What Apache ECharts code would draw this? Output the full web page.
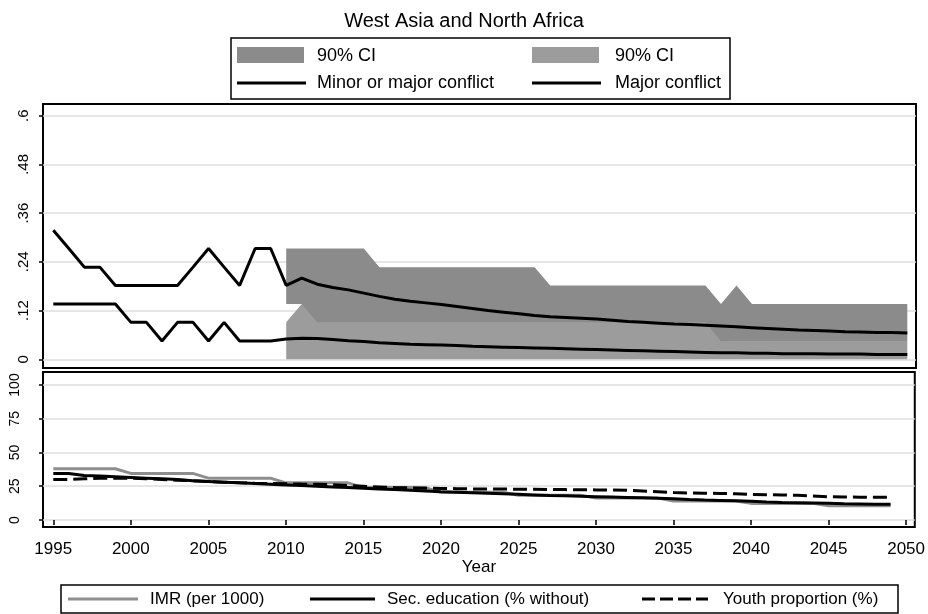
<!DOCTYPE html>
<html>
<head>
<meta charset="utf-8">
<title>West Asia and North Africa</title>
<script src="https://cdn.jsdelivr.net/npm/echarts@6/dist/echarts.min.js"></script>
<style>
  html, body { margin: 0; padding: 0; background: #fff; }
  #chart { width: 928px; height: 614px; }
</style>
</head>
<body>
<div id="chart"></div>
<script>
// ---- Conflict incidence (share of countries), observed 1995-2009, forecast 2010-2050
var conflictYears = [1995,1996,1997,1998,1999,2000,2001,2002,2003,2004,2005,2006,2007,2008,2009,
  2010,2011,2012,2013,2014,2015,2016,2017,2018,2019,2020,2021,2022,2023,2024,2025,2026,2027,2028,2029,
  2030,2031,2032,2033,2034,2035,2036,2037,2038,2039,2040,2041,2042,2043,2044,2045,2046,2047,2048,2049,2050];

var minorOrMajor = [.318,.273,.227,.227,.182,.182,.182,.182,.182,.227,.273,.227,.182,.273,.273,
  .182,.200,.185,.177,.171,.163,.155,.148,.143,.139,.135,.130,.125,.120,.116,.112,.108,.105,.103,.101,
  .099,.096,.093,.091,.089,.087,.086,.084,.082,.080,.078,.076,.074,.072,.071,.070,.068,.067,.066,.066,.065];

var majorOnly = [.136,.136,.136,.136,.136,.091,.091,.045,.091,.091,.045,.091,.045,.045,.045,
  .050,.052,.051,.049,.046,.044,.041,.039,.037,.036,.035,.034,.032,.031,.030,.029,.028,.027,.026,.025,
  .024,.023,.022,.021,.020,.019,.018,.017,.016,.016,.015,.015,.014,.014,.014,.013,.013,.013,.012,.012,.012];

// ---- 90% confidence intervals of the forecasts
var ciYears = [2010,2011,2012,2013,2014,2015,2016,2017,2018,2019,2020,2021,2022,2023,2024,2025,2026,2027,2028,2029,
  2030,2031,2032,2033,2034,2035,2036,2037,2038,2039,2040,2041,2042,2043,2044,2045,2046,2047,2048,2049,2050];

var ciAnyLow = [.136,.136,.045,.045,.045,.045,.045,.045,.045,.045,.045,.045,.045,.045,.045,.045,.045,.045,.045,.045,
  .045,.045,.045,.045,.045,.045,.045,.045,.045,.045,.045,.045,.045,.045,.045,.045,.045,.045,.045,.045,.045];
var ciAnyHigh = [.273,.273,.273,.273,.273,.273,.227,.227,.227,.227,.227,.227,.227,.227,.227,.227,.227,.182,.182,.182,
  .182,.182,.182,.182,.182,.182,.182,.182,.136,.182,.136,.136,.136,.136,.136,.136,.136,.136,.136,.136,.136];
var ciMajorLow = [0,0,0,0,0,0,0,0,0,0,0,0,0,0,0,0,0,0,0,0,
  0,0,0,0,0,0,0,0,0,0,0,0,0,0,0,0,0,0,0,0,0];
var ciMajorHigh = [.091,.136,.091,.091,.091,.091,.091,.091,.091,.091,.091,.091,.091,.091,.091,.091,.091,.091,.091,.091,
  .091,.091,.091,.091,.091,.091,.091,.091,.045,.045,.045,.045,.045,.045,.045,.045,.045,.045,.045,.045,.045];

// ---- Structural drivers, 1995-2049
var driverYears = [1995,1996,1997,1998,1999,2000,2001,2002,2003,2004,2005,2006,2007,2008,2009,
  2010,2011,2012,2013,2014,2015,2016,2017,2018,2019,2020,2021,2022,2023,2024,2025,2026,2027,2028,2029,
  2030,2031,2032,2033,2034,2035,2036,2037,2038,2039,2040,2041,2042,2043,2044,2045,2046,2047,2048,2049];

var imr = [38,38,38,38,38,34.5,34.5,34.5,34.5,34.5,31,31,31,31,31,
  27.5,27.5,27.5,27.5,27.5,24,24,24,24,24,20.5,20.5,20.5,20.5,20.5,18.3,18.3,18.3,18.3,18.3,
  16.2,16.2,16.2,16.2,16.2,14.1,14.1,14.1,14.1,14.1,12.3,12.3,12.3,12.3,12.3,10.6,10.6,10.6,10.6,10.6];

var secEducation = [34.5,34.5,33,32.5,32,31.5,31,30.5,30,29,28.5,28,27.5,27,26.5,
  26,25.5,25,24.5,24,23.5,23,22.5,22,21.5,21,20.6,20.2,19.8,19.4,19,18.6,18.2,17.9,17.6,
  17.3,17,16.7,16.4,16.1,15.8,15.2,14.8,14.5,14.2,13.9,13.3,13,12.8,12.6,12.4,12,11.8,11.6,11.6];

var youthShare = [30,30,30.5,31,31,31,30.5,30,29.5,29,28.5,28,27.5,27.2,27,
  26.8,26.6,26.5,26.2,25.5,25,24.5,24,23.8,23.6,23.4,23.2,23,23,22.9,22.8,22.7,22.6,22.5,22.4,
  22.3,22.2,22,21.5,21,20.3,20,19.8,19.7,19.5,19,18.7,18.5,18.3,17.8,17.2,17,16.9,16.8,16.8];

// ---- Tick labels
var yearTicks = [1995,2000,2005,2010,2015,2020,2025,2030,2035,2040,2045,2050];
var probTicks = [0,.12,.24,.36,.48,.6];
var probTickLabels = ['0','.12','.24','.36','.48','.6'];
var pctTicks = [0,25,50,75,100];

// ---- Helpers
function pairs(xs, ys) {
  return xs.map(function (x, i) { return [x, ys[i]]; });
}
function bandRows(xs, lo, hi) {
  return xs.map(function (x, i) { return [x, lo[i], hi[i]]; });
}
// Draws a whole confidence band as one polygon: upper edge left to right,
// lower edge right to left, every vertex placed through the axis scales.
function bandRenderer(xs, lo, hi, color) {
  return function (params, api) {
    if (params.dataIndex !== 0) return null;
    var pts = [];
    for (var i = 0; i < xs.length; i++) pts.push(api.coord([xs[i], hi[i]]));
    for (var j = xs.length - 1; j >= 0; j--) pts.push(api.coord([xs[j], lo[j]]));
    return { type: 'polygon', shape: { points: pts }, style: { fill: color, stroke: null } };
  };
}

var FONT = '"Liberation Sans", Arial, sans-serif';
var DARK_CI = '#8b8b8b';
var LIGHT_CI = '#9c9c9c';
var IMR_GRAY = '#8e8e8e';

var chart = echarts.init(document.getElementById('chart'), null, { renderer: 'canvas' });

var xCommon = {
  type: 'value',
  min: 1994.337,
  max: 2050.56,
  axisLine: { show: false },
  splitLine: { show: false }
};

var option = {
  animation: false,
  backgroundColor: '#ffffff',
  textStyle: { fontFamily: FONT, color: '#000' },
  title: {
    text: 'West Asia and North Africa',
    left: 'center',
    top: 6,
    textStyle: { fontFamily: FONT, fontSize: 20, fontWeight: 'normal', color: '#000' }
  },
  grid: [
    { left: 43, top: 104, width: 873, height: 264, show: true, borderColor: '#000', borderWidth: 2, backgroundColor: 'transparent' },
    { left: 43, top: 372, width: 873, height: 155, show: true, borderColor: '#000', borderWidth: 2, backgroundColor: 'transparent' }
  ],
  xAxis: [
    Object.assign({}, xCommon, {
      gridIndex: 0,
      axisTick: { show: false },
      axisLabel: { show: false }
    }),
    Object.assign({}, xCommon, {
      gridIndex: 1,
      name: 'Year',
      nameLocation: 'middle',
      nameGap: 25,
      nameTextStyle: { fontFamily: FONT, fontSize: 17, color: '#000' },
      axisTick: { show: true, customValues: yearTicks, length: 5, lineStyle: { color: '#000', width: 1.5 } },
      axisLabel: { show: true, customValues: yearTicks, margin: 14, fontFamily: FONT, fontSize: 17, color: '#000',
        formatter: function (v) { return String(v); } }
    })
  ],
  yAxis: [
    {
      type: 'value', gridIndex: 0,
      min: -0.0214, max: 0.6288,
      axisLine: { show: false },
      axisTick: { show: true, customValues: probTicks, length: 4, lineStyle: { color: '#000', width: 1.5 } },
      axisLabel: { show: true, customValues: probTicks, rotate: 90, margin: 12, fontFamily: FONT, fontSize: 15, color: '#000',
        formatter: function (v) {
          var i = probTicks.findIndex(function (t) { return Math.abs(t - v) < 1e-9; });
          return i >= 0 ? probTickLabels[i] : '';
        } },
      splitLine: { show: true, lineStyle: { color: '#dedede', width: 1.5 } }
    },
    {
      type: 'value', gridIndex: 1,
      min: -5.19, max: 109.63,
      axisLine: { show: false },
      axisTick: { show: true, customValues: pctTicks, length: 4, lineStyle: { color: '#000', width: 1.5 } },
      axisLabel: { show: true, customValues: pctTicks, rotate: 90, margin: 21, fontFamily: FONT, fontSize: 14, color: '#000' },
      splitLine: { show: true, lineStyle: { color: '#dedede', width: 1.5 } }
    }
  ],
  series: [
    // 90% CI, minor or major conflict (darker band)
    { type: 'custom', xAxisIndex: 0, yAxisIndex: 0, silent: true,
      encode: { x: 0, y: [1, 2] },
      data: bandRows(ciYears, ciAnyLow, ciAnyHigh),
      renderItem: bandRenderer(ciYears, ciAnyLow, ciAnyHigh, DARK_CI) },
    // 90% CI, major conflict (lighter band)
    { type: 'custom', xAxisIndex: 0, yAxisIndex: 0, silent: true,
      encode: { x: 0, y: [1, 2] },
      data: bandRows(ciYears, ciMajorLow, ciMajorHigh),
      renderItem: bandRenderer(ciYears, ciMajorLow, ciMajorHigh, LIGHT_CI) },
    // Conflict lines
    { name: 'Minor or major conflict', type: 'line', xAxisIndex: 0, yAxisIndex: 0, symbol: 'none',
      lineStyle: { color: '#000', width: 3 }, data: pairs(conflictYears, minorOrMajor) },
    { name: 'Major conflict', type: 'line', xAxisIndex: 0, yAxisIndex: 0, symbol: 'none',
      lineStyle: { color: '#000', width: 3 }, data: pairs(conflictYears, majorOnly) },
    // Drivers
    { name: 'IMR (per 1000)', type: 'line', xAxisIndex: 1, yAxisIndex: 1, symbol: 'none',
      lineStyle: { color: IMR_GRAY, width: 3 }, data: pairs(driverYears, imr) },
    { name: 'Youth proportion (%)', type: 'line', xAxisIndex: 1, yAxisIndex: 1, symbol: 'none',
      lineStyle: { color: '#000', width: 3, type: [14, 6] }, data: pairs(driverYears, youthShare) },
    { name: 'Sec. education (% without)', type: 'line', xAxisIndex: 1, yAxisIndex: 1, symbol: 'none',
      lineStyle: { color: '#000', width: 3 }, data: pairs(driverYears, secEducation) }
  ],
  graphic: [
    // Upper key
    { type: 'rect', shape: { x: 231, y: 38, width: 499, height: 61 }, style: { fill: '#fff', stroke: '#000', lineWidth: 1.5 }, z: 10 },
    { type: 'rect', shape: { x: 237, y: 47, width: 67, height: 16 }, style: { fill: DARK_CI }, z: 11 },
    { type: 'text', x: 317, y: 56, style: { text: '90% CI', font: '18px ' + FONT, fill: '#000', verticalAlign: 'middle' }, z: 11 },
    { type: 'rect', shape: { x: 532, y: 47, width: 67, height: 16 }, style: { fill: LIGHT_CI }, z: 11 },
    { type: 'text', x: 615, y: 56, style: { text: '90% CI', font: '18px ' + FONT, fill: '#000', verticalAlign: 'middle' }, z: 11 },
    { type: 'line', shape: { x1: 237, y1: 83, x2: 306, y2: 83 }, style: { stroke: '#000', lineWidth: 3 }, z: 11 },
    { type: 'text', x: 317, y: 83, style: { text: 'Minor or major conflict', font: '18px ' + FONT, fill: '#000', verticalAlign: 'middle' }, z: 11 },
    { type: 'line', shape: { x1: 532, y1: 83, x2: 601, y2: 83 }, style: { stroke: '#000', lineWidth: 3 }, z: 11 },
    { type: 'text', x: 615, y: 83, style: { text: 'Major conflict', font: '18px ' + FONT, fill: '#000', verticalAlign: 'middle' }, z: 11 },
    // Lower key
    { type: 'rect', shape: { x: 61, y: 585, width: 837, height: 28 }, style: { fill: '#fff', stroke: '#000', lineWidth: 1.5 }, z: 10 },
    { type: 'line', shape: { x1: 68, y1: 599, x2: 138, y2: 599 }, style: { stroke: IMR_GRAY, lineWidth: 3 }, z: 11 },
    { type: 'text', x: 150, y: 599, style: { text: 'IMR (per 1000)', font: '17px ' + FONT, fill: '#000', verticalAlign: 'middle' }, z: 11 },
    { type: 'line', shape: { x1: 310, y1: 599, x2: 375, y2: 599 }, style: { stroke: '#000', lineWidth: 3 }, z: 11 },
    { type: 'text', x: 387, y: 599, style: { text: 'Sec. education (% without)', font: '17px ' + FONT, fill: '#000', verticalAlign: 'middle' }, z: 11 },
    { type: 'line', shape: { x1: 642, y1: 599, x2: 708, y2: 599 }, style: { stroke: '#000', lineWidth: 3, lineDash: [13, 5] }, z: 11 },
    { type: 'text', x: 723, y: 599, style: { text: 'Youth proportion (%)', font: '17px ' + FONT, fill: '#000', verticalAlign: 'middle' }, z: 11 }
  ]
};

chart.setOption(option);
</script>
</body>
</html>
